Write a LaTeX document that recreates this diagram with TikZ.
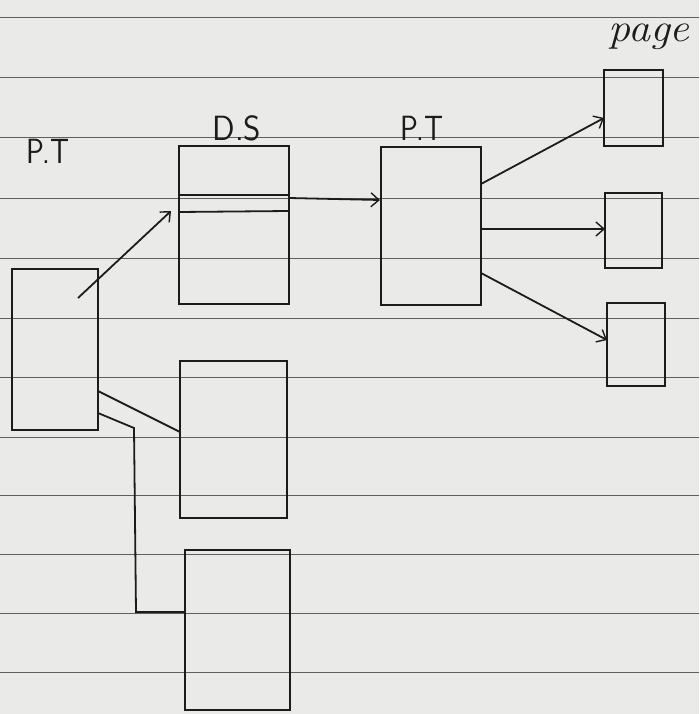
\documentclass[tikz,border=0pt]{standalone}
\usepackage{graphicx}
\usetikzlibrary{arrows.meta}
\definecolor{ink}{RGB}{28,28,28}
\definecolor{rulegray}{RGB}{95,95,95}
\definecolor{paper}{RGB}{234,234,232}
\begin{document}
\begin{tikzpicture}[x=1pt,y=-1pt,
  box/.style={draw=ink,line width=2.2pt,anchor=north west,inner sep=0pt,outer sep=0pt},
  wire/.style={draw=ink,line width=1.8pt},
  arr/.style={wire,-{Straight Barb[length=8pt,width=14pt,line width=1.4pt]}},
  rule/.style={draw=rulegray,line width=1pt},
  lbl/.style={text=ink,font=\sffamily\fontsize{35}{35}\selectfont,inner sep=0pt},
  pagelbl/.style={text=ink,font=\itshape\fontsize{40}{40}\selectfont,inner sep=0pt}]
% paper
\fill[paper] (0,0) rectangle (699,714);
\useasboundingbox (0,0) rectangle (699,714);
% ruled lines
\foreach \yy in {18,78,138,198,258,318,377,437,495,554,613,672}
  \draw[rule] (0,\yy) -- (699,\yy);
% boxes
\node[box,minimum width=86pt,minimum height=161pt] (pt1) at (12,269) {};
\node[box,minimum width=110pt,minimum height=158pt] (ds) at (179,146) {};
\node[box,minimum width=100pt,minimum height=158pt] (pt2) at (381,147) {};
\node[box,minimum width=59pt,minimum height=76pt] (pg1) at (604,70) {};
\node[box,minimum width=57pt,minimum height=75pt] (pg2) at (605,193) {};
\node[box,minimum width=58pt,minimum height=83pt] (pg3) at (607,303) {};
\node[box,minimum width=107pt,minimum height=157pt] (mb) at (180,361) {};
\node[box,minimum width=105pt,minimum height=160pt] (bb) at (185,550) {};
% labels
\node[lbl] (lpt1) at (48,151) {\scalebox{0.85}[1]{P.T}};
\node[lbl] (lds) at (237,128) {\scalebox{0.95}[1]{D.S}};
\node[lbl] (lpt2) at (422,128) {\scalebox{0.85}[1]{P.T}};
\node[pagelbl,anchor=base] (lpage) at (649,42) {\scalebox{1.1}[1]{page}};
% D.S dividers
\coordinate (d1w) at (179,195); \coordinate (d1e) at (289,195);
\coordinate (d2w) at (179,212); \coordinate (d2e) at (289,211);
\draw[wire] (d1w) -- (d1e);
\draw[wire] (d2w) -- (d2e);
% arrows
\coordinate (a1s) at (78,298); \coordinate (a1e) at (171,211);
\draw[arr] (a1s) -- (a1e);
\coordinate (a2s) at (289,198); \coordinate (a2e) at (380,200);
\draw[arr] (a2s) -- (a2e);
\coordinate (a3s) at (481,184); \coordinate (a3e) at (604,118);
\draw[arr] (a3s) -- (a3e);
\coordinate (a4s) at (481,229); \coordinate (a4e) at (605,229);
\draw[arr] (a4s) -- (a4e);
\coordinate (a5s) at (481,273); \coordinate (a5e) at (607,340);
\draw[arr] (a5s) -- (a5e);
% plain links from left P.T
\coordinate (l1s) at (98,391); \coordinate (l1e) at (180,432);
\draw[wire] (l1s) -- (l1e);
\coordinate (l2s) at (98,413); \coordinate (l2a) at (134,428);
\coordinate (l2b) at (136,612); \coordinate (l2e) at (185,612);
\draw[wire,line join=miter] (l2s) -- (l2a) -- (l2b) -- (l2e);
\end{tikzpicture}
\end{document}
